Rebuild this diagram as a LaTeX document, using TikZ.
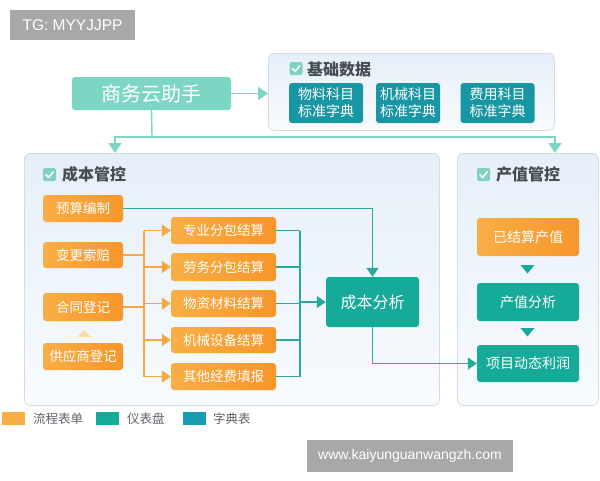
\documentclass[tikz,border=0pt]{standalone}
\usepackage{fontspec}
\setmainfont{Noto Sans CJK SC}
\newfontfamily\latinsans{Liberation Sans}
\usetikzlibrary{arrows.meta,calc}
\definecolor{orA}{HTML}{F9AE45}
\definecolor{orB}{HTML}{F7962A}
\definecolor{tealD}{HTML}{16AA99}
\definecolor{dictC}{HTML}{1896A3}
\definecolor{legdict}{HTML}{1A9CB0}
\definecolor{lteal}{HTML}{7DD5C6}
\definecolor{tline}{HTML}{2AA89A}
\definecolor{oline}{HTML}{F6A842}
\definecolor{pborder}{HTML}{D5DBE3}
\definecolor{ptop}{HTML}{E6EFF9}
\definecolor{pbot}{HTML}{F8FBFE}
\definecolor{titc}{HTML}{474C55}
\definecolor{chk}{HTML}{82D0C4}
\definecolor{wmgray}{HTML}{A8A8A8}
\definecolor{legtxt}{HTML}{5F6368}
\tikzset{
  panel/.style={draw=pborder, line width=0.8pt, rounded corners=6pt, top color=ptop, bottom color=pbot, anchor=north west},
  obox/.style={rounded corners=3pt, left color=orA, right color=orB, text=white, font=\fontsize{13.5}{16}\selectfont, inner sep=0pt},
  tbox/.style={rounded corners=3pt, fill=tealD, text=white, font=\fontsize{14}{16}\selectfont, inner sep=0pt},
  dbox/.style={rounded corners=3pt, fill=dictC, text=white, font=\fontsize{14}{17}\selectfont, inner sep=0pt, align=center},
  ptitle/.style={anchor=west, text=titc, font=\fontsize{16}{18}\selectfont\bfseries, inner sep=0pt},
  tarrow/.style={draw=tline, line width=1.4pt, -{Triangle[width=12pt,length=9pt]}},
  tlin/.style={draw=tline, line width=1.4pt},
  oarrow/.style={draw=oline, line width=1.4pt, -{Triangle[width=12pt,length=9pt]}},
  olin/.style={draw=oline, line width=1.4pt},
  larrow/.style={draw=lteal, line width=1.4pt, -{Triangle[width=13pt,length=10pt]}},
  llin/.style={draw=lteal, line width=1.4pt},
  legbox/.style={minimum width=23pt, minimum height=13pt, inner sep=0pt},
  legtext/.style={anchor=west, text=legtxt, font=\fontsize{12.5}{14}\selectfont, inner sep=0pt},
  wm/.style={fill=wmgray, text=white, inner sep=0pt, font=\latinsans\fontsize{14}{16}\selectfont}
}
\newcommand{\checkicon}[2]{%
  \fill[chk, rounded corners=1.5pt] (#1,#2) rectangle ++(13,13);
  \draw[white, line width=1.6pt, line cap=round, line join=round] (#1+3,#2+6.8) -- (#1+5.6,#2+9.4) -- (#1+10.2,#2+4);
}
\begin{document}
\begin{tikzpicture}[x=1pt,y=-1pt]
\useasboundingbox (0,0) rectangle (600,480);
\fill[white] (0,0) rectangle (600,480);
% watermark boxes
\node[wm, minimum width=125pt, minimum height=30pt, font=\latinsans\fontsize{15.5}{17}\selectfont] (tg) at (72.5,25) {TG: MYYJJPP};
\node[wm, minimum width=206pt, minimum height=32pt] (www) at (410,456) {www.kaiyunguanwangzh.com};

% panels
\node[panel, minimum width=286pt, minimum height=77pt] (jc) at (268,53) {};
\node[panel, minimum width=415pt, minimum height=252pt] (cb) at (24,153) {};
\node[panel, minimum width=141pt, minimum height=252pt] (cz) at (457,153) {};

% titles
\checkicon{289.5}{62}
\node[ptitle] (jct) at (307,69) {基础数据};
\checkicon{43}{168}
\node[ptitle] (cbt) at (62,174.5) {成本管控};
\checkicon{477}{168}
\node[ptitle] (czt) at (496,174.5) {产值管控};

% top node
\node[rounded corners=3pt, fill=lteal, text=white, font=\fontsize{20}{22}\selectfont, inner sep=0pt, minimum width=159pt, minimum height=33pt] (zs) at (151.5,93.5) {商务云助手};

% dictionary boxes
\node[dbox, minimum width=74pt, minimum height=40pt] (d1) at (326,103) {物料科目\\标准字典};
\node[dbox, minimum width=64pt, minimum height=40pt] (d2) at (408,103) {机械科目\\标准字典};
\node[dbox, minimum width=74pt, minimum height=40pt] (d3) at (497.5,103) {费用科目\\标准字典};

% left column
\node[obox, minimum width=80pt, minimum height=27pt] (ys) at (83,208.5) {预算编制};
\node[obox, minimum width=80pt, minimum height=26pt] (bg) at (83,255) {变更索赔};
\node[obox, minimum width=80pt, minimum height=28pt] (ht) at (83,307) {合同登记};
\node[obox, minimum width=80pt, minimum height=27pt] (gy) at (83,356.5) {供应商登记};
\fill[orA!45] (77,337) -- (91,337) -- (84,330) -- cycle;

% middle column
\node[obox, minimum width=105pt, minimum height=27pt] (m1) at (223.5,230.5) {专业分包结算};
\node[obox, minimum width=105pt, minimum height=28pt] (m2) at (223.5,267) {劳务分包结算};
\node[obox, minimum width=105pt, minimum height=27pt] (m3) at (223.5,303.5) {物资材料结算};
\node[obox, minimum width=105pt, minimum height=26pt] (m4) at (223.5,340) {机械设备结算};
\node[obox, minimum width=105pt, minimum height=27pt] (m5) at (223.5,376.5) {其他经费填报};

% cost analysis
\node[tbox, minimum width=93pt, minimum height=50pt, font=\fontsize{16}{18}\selectfont] (fx) at (372.5,302) {成本分析};

% output value column
\node[obox, minimum width=102pt, minimum height=38pt, font=\fontsize{14}{16}\selectfont] (yj) at (528,237) {已结算产值};
\node[tbox, minimum width=102pt, minimum height=38pt] (cf) at (528,302) {产值分析};
\node[tbox, minimum width=102pt, minimum height=37pt] (lr) at (528,363.5) {项目动态利润};
\fill[tealD] (520.5,265) -- (534.5,265) -- (527.5,273.5) -- cycle;
\fill[tealD] (520.5,328) -- (534.5,328) -- (527.5,336.5) -- cycle;

% top connectors
\draw[larrow] (zs.east) -- (zs.east -| jc.west);
\coordinate (split) at (152,137);
\coordinate (cbin) at (115,153);
\coordinate (czin) at (555,153);
\draw[llin] (zs.south) -- (split);
\draw[larrow] (split) -| (cbin);
\draw[larrow] (split) -| (czin);

% orange connectors
\coordinate (ob1) at (144,230.5);
\coordinate (ob2) at (144,376.5);
\draw[olin] (ob1) -- (ob2);
\draw[olin] (bg.east) -- (bg.east -| ob1);
\draw[olin] (ht.east) -- (ht.east -| ob1);
\foreach \m in {m1,m2,m3,m4,m5} {\draw[oarrow] (\m.west -| ob1) -- (\m.west);}

% teal connectors
\coordinate (tb1) at (300,230.5);
\coordinate (tb2) at (300,376.5);
\draw[tlin] (tb1) -- (tb2);
\foreach \m in {m1,m2,m3,m4,m5} {\draw[tlin] (\m.east) -- (\m.east -| tb1);}
\draw[tarrow] (fx.west -| tb1) -- (fx.west);
\draw[tarrow] (ys.east) -| (fx.north);
\draw[tarrow] (fx.south) |- (lr.west);

% legend
\node[legbox, fill=orA] (l1) at (13.5,418.5) {};
\node[legtext] (l1t) at (33,418.5) {流程表单};
\node[legbox, fill=tealD] (l2) at (107.5,418.5) {};
\node[legtext] (l2t) at (127,418.5) {仪表盘};
\node[legbox, fill=legdict] (l3) at (194.5,418.5) {};
\node[legtext] (l3t) at (213,418.5) {字典表};
\end{tikzpicture}
\end{document}
